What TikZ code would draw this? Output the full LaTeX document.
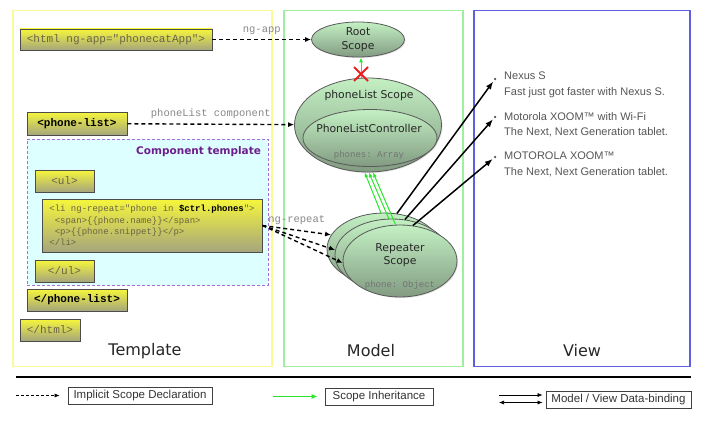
\documentclass[tikz,border=0pt]{standalone}
\usepackage{fontspec}
\setmainfont{Liberation Sans}
\setmonofont{Liberation Mono}
\newfontfamily\scopefont{DejaVu Sans}
\usetikzlibrary{arrows.meta,positioning,calc,shapes.geometric,shadows}

\definecolor{tplyellow}{RGB}{250,250,150}
\definecolor{mdlgreen}{RGB}{160,238,160}
\definecolor{viewblue}{RGB}{95,95,225}
\definecolor{boxtop}{RGB}{246,246,60}
\definecolor{boxbot}{RGB}{165,165,125}
\definecolor{scopetop}{RGB}{195,240,195}
\definecolor{scopebot}{RGB}{130,155,130}
\definecolor{compfill}{RGB}{222,255,255}
\definecolor{compline}{RGB}{165,110,215}
\definecolor{comptext}{RGB}{110,30,140}
\definecolor{codegrey}{RGB}{105,100,70}
\definecolor{lblgrey}{RGB}{135,135,135}
\definecolor{inhgreen}{RGB}{40,230,40}
\definecolor{viewtext}{RGB}{85,85,85}
\definecolor{cutred}{RGB}{235,30,30}

\begin{document}
\begin{tikzpicture}[x=1pt, y=-1pt,
  panel/.style={draw, line width=1.3pt, inner sep=0pt},
  title/.style={font=\scopefont\fontsize{16}{18}\selectfont, text=black!85},
  tag/.style={draw=black!70, line width=0.9pt, top color=boxtop, bottom color=boxbot, inner sep=0pt,
    text=codegrey, font=\ttfamily\fontsize{11}{13}\selectfont,
    drop shadow={shadow xshift=1pt, shadow yshift=-1pt, opacity=0.3}},
  scope/.style={ellipse, draw=black!65, line width=0.8pt, top color=scopetop, bottom color=scopebot, inner sep=0pt,
    drop shadow={shadow xshift=1pt, shadow yshift=-1pt, opacity=0.25}},
  scopetxt/.style={font=\scopefont\fontsize{10.8}{13.5}\selectfont, align=center, text=black!85},
  field/.style={font=\ttfamily\fontsize{9}{11}\selectfont, text=black!55},
  edgelbl/.style={font=\ttfamily\fontsize{10.5}{12}\selectfont, text=lblgrey},
  dasharr/.style={-{Latex[length=6pt,width=5pt]}, line width=1.4pt, dash pattern=on 4pt off 3pt},
  inh/.style={-{Latex[length=5pt,width=4pt]}, inhgreen, line width=1pt},
  bind/.style={-{Latex[length=8pt,width=6pt]}, line width=1.5pt, shorten >=1.5pt},
  item/.style={align=left, anchor=north west, font=\fontsize{11}{15.5}\selectfont, text=viewtext, inner sep=0pt},
  dot/.style={circle, fill=black!70, inner sep=0pt, minimum size=2.5pt},
  legbox/.style={draw=black!75, line width=0.8pt, inner sep=0pt, minimum height=17, font=\fontsize{11.5}{13}\selectfont, text=black!80}
]
\useasboundingbox (0,0) rectangle (708,420);

% panels
\node[panel, draw=tplyellow, minimum width=259, minimum height=356] (tplpanel) at (142.5,188.5) {};
\node[panel, draw=mdlgreen, minimum width=179, minimum height=356] (mdlpanel) at (373.5,188.5) {};
\node[panel, draw=viewblue, minimum width=216, minimum height=356] (viewpanel) at (582,188.5) {};
\node[title] at (145,351) {Template};
\node[title] at (371,351) {Model};
\node[title] at (582,351) {View};

% template
\node[tag, minimum width=192, minimum height=21] (html) at (116,39.5) {<html ng-app="phonecatApp">};
\node[tag, minimum width=100, minimum height=23, text=black, font=\ttfamily\bfseries\fontsize{11}{13}\selectfont] (phlist) at (77,123.5) {<phone-list>};
\node[draw=compline, line width=1pt, densely dashed, fill=compfill, minimum width=241, minimum height=146, inner sep=0pt] (comp) at (147.5,212) {};
\node[anchor=north east, font=\scopefont\bfseries\fontsize{10.5}{12}\selectfont, text=comptext] at ([xshift=-4pt, yshift=-4pt]comp.north east) {Component template};
\node[tag, minimum width=59, minimum height=22] (ul) at (64.5,181) {<ul>};
\node[tag, minimum width=220, minimum height=53, align=left, font=\ttfamily\fontsize{9}{11.3}\selectfont] (li) at (152,225.5)
  {<li ng-repeat="phone in \textcolor{black}{\bfseries\$ctrl.phones}">\\
   ~<span>\{\{phone.name\}\}</span>\\
   ~<p>\{\{phone.snippet\}\}</p>\\
   </li>};
\node[tag, minimum width=59, minimum height=22] (ulend) at (64.5,271) {</ul>};
\node[tag, minimum width=100, minimum height=22, text=black, font=\ttfamily\bfseries\fontsize{11}{13}\selectfont] (phlend) at (77,300) {</phone-list>};
\node[tag, minimum width=60, minimum height=22] (htmlend) at (50,330) {</html>};

% model
\node[scope, minimum width=93, minimum height=35, scopetxt] (root) at (358,39.5) {Root\\Scope};
\node[scope, minimum width=147, minimum height=94] (plscope) at (368,125) {};
\node[scopetxt] at (369,96) {phoneList Scope};
\node[scope, minimum width=134, minimum height=57] (ctrl) at (370,138) {};
\node[scopetxt] at (369,128) {PhoneListController};
\node[field] at (369,155) {phones: Array};

\node[scope, minimum width=114, minimum height=72] (rep3) at (384,249) {};
\node[scope, minimum width=114, minimum height=72] (rep2) at (392,255) {};
\node[scope, minimum width=114, minimum height=72, scopetxt] (rep1) at (400,261) {};
\node[scopetxt] at (400,255) {Repeater\\Scope};
\node[field] at (400,285) {phone: Object};

% scope declarations
\draw[dasharr] (html) -- node[edgelbl, above=1pt] {ng-app} (root);
\draw[dasharr] (phlist) -- node[edgelbl, above=1pt] {phoneList component} (plscope);
\draw[dasharr] (li.east) -- node[edgelbl, above=1pt] {ng-repeat} (rep3.165);
\draw[dasharr] (li.east) -- (rep2.175);
\draw[dasharr] (li.east) -- (rep1.182);

% inheritance
\draw[inh] ([xshift=3]root.south |- plscope.north) -- ([xshift=3]root.south);
\coordinate (cut) at (361,74);
\draw[cutred, line width=2pt] ($(cut)+(-7,-7)$) -- ($(cut)+(7,7)$)
  ($(cut)+(-7,7)$) -- ($(cut)+(7,-7)$);
\draw[inh] (rep3.95) -- (plscope.266);
\draw[inh] (rep2.95) -- (plscope.271);
\draw[inh] (rep1.97) -- (plscope.276);

% view
\node[dot] (b1) at (495,79) {};
\node[dot] (b2) at (495,117) {};
\node[dot] (b3) at (495,157) {};
\node[item] at (504,72) {Nexus S\\Fast just got faster with Nexus S.};
\node[item] at (504,112) {Motorola XOOM™ with Wi-Fi\\The Next, Next Generation tablet.};
\node[item] at (504,152) {MOTOROLA XOOM™\\The Next, Next Generation tablet.};

\draw[bind] (rep3.70) -- (b1);
\draw[bind] (rep2.70) -- (b2);
\draw[bind] (rep1.70) -- (b3);

% legend
\draw[line width=1.6pt] (16,377) -- (691,377);
\node[legbox, minimum width=144] (lg1) at (140,395.5) {Implicit Scope Declaration};
\node[legbox, minimum width=108] (lg2) at (379,396.5) {Scope Inheritance};
\node[legbox, minimum width=145] (lg3) at (618.5,400) {Model / View Data-binding};
\coordinate (lgd0) at (16,395.5);
\coordinate (lgi0) at (273,396.5);
\coordinate (lgb0) at (499,395);
\coordinate (lgb1) at (499,402.5);
\draw[-{Latex[length=5pt,width=4pt]}, semithick, dash pattern=on 3pt off 2pt, shorten >=8pt] (lgd0) -- (lg1);
\draw[-{Latex[length=6pt,width=5pt]}, inhgreen, line width=1.6pt, shorten >=7pt] (lgi0) -- (lg2);
\draw[-{Latex[length=5pt,width=4pt]}, semithick, shorten >=3pt] (lgb0) -- (lg3.west |- lgb0);
\draw[{Latex[length=5pt,width=4pt]}-{Latex[length=5pt,width=4pt]}, semithick, shorten >=3pt] (lgb1) -- (lg3.west |- lgb1);

\end{tikzpicture}
\end{document}
